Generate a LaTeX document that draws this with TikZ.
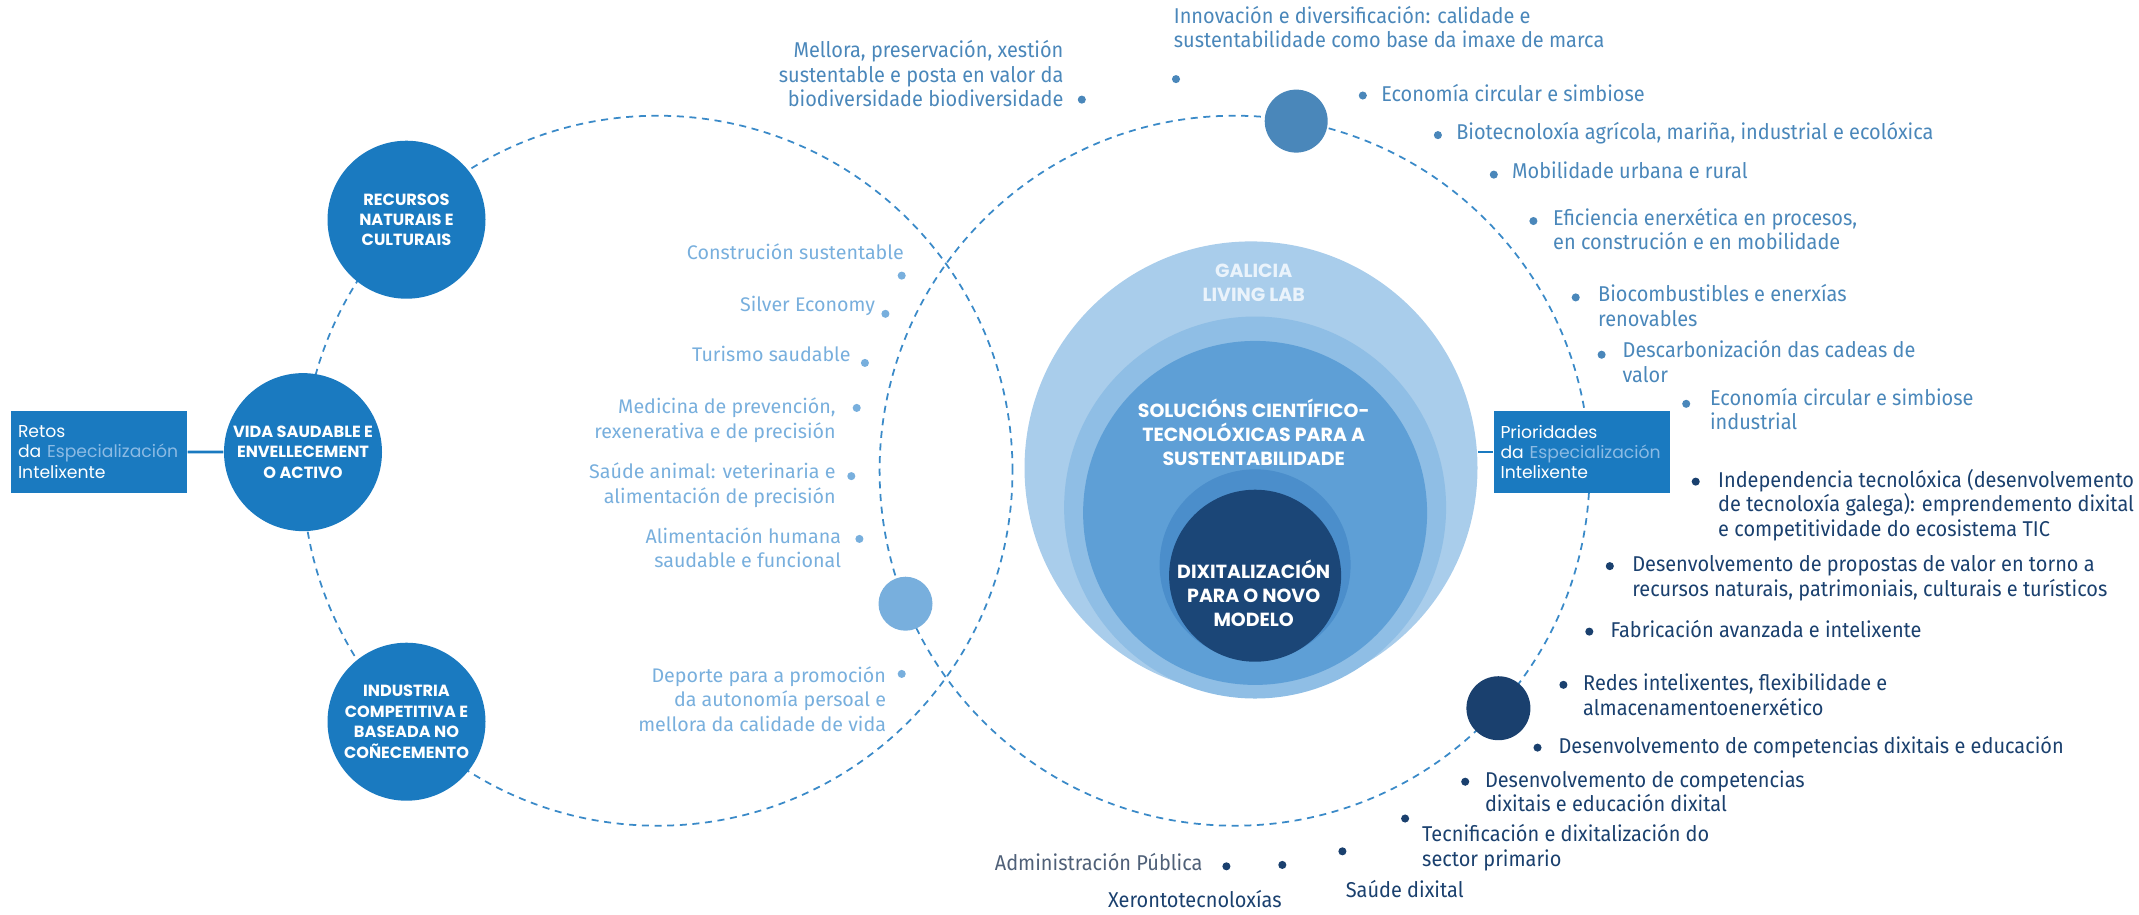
\documentclass[tikz,border=0pt]{standalone}
\usepackage{fontspec}
\usepackage{tikz}
\usepackage{xcolor}
\setmainfont{Fira Sans}
\newfontfamily\popfont{Poppins}
\newfontfamily\condfont[FakeStretch=0.93]{Fira Sans}
\definecolor{BlueGL}{HTML}{1A7AC0}
\definecolor{SteelGL}{HTML}{4A87BA}
\definecolor{LightGL}{HTML}{78AFDD}
\definecolor{DarkGL}{HTML}{1A406E}
\definecolor{GrayGL}{HTML}{4F6078}
\definecolor{PaleGL}{HTML}{8CBBE4}
\definecolor{DashGL}{HTML}{3A8AC8}
\definecolor{RingA}{HTML}{A9CDEB}
\definecolor{RingB}{HTML}{8FBEE5}
\definecolor{RingC}{HTML}{5E9FD6}
\definecolor{RingD}{HTML}{4B8ECB}
\definecolor{RingE}{HTML}{1B4677}
\definecolor{SnowGL}{HTML}{EAF3FB}
\newcommand\nodert{Retos\\da \textcolor{PaleGL}{Especialización}\\Intelixente}
\newcommand\nodepr{Prioridades\\da \textcolor{PaleGL}{Especialización}\\Intelixente}
\newcommand\noderec{RECURSOS\\NATURAIS E\\CULTURAIS}
\newcommand\nodevsa{VIDA SAUDABLE E\\ENVELLECEMENT\\O ACTIVO}
\newcommand\nodeicc{INDUSTRIA\\COMPETITIVA E\\BASEADA NO\\COÑECEMENTO}
\newcommand\nodegll{GALICIA\\LIVING LAB}
\newcommand\nodesct{SOLUCIÓNS CIENTÍFICO-\\TECNOLÓXICAS PARA A\\SUSTENTABILIDADE}
\newcommand\nodedix{DIXITALIZACIÓN\\PARA O NOVO\\MODELO}
\newcommand\nodeml{Mellora, preservación, xestión\\sustentable e posta en valor da\\biodiversidade biodiversidade}
\newcommand\nodeid{Innovación e diversificación: calidade e\\sustentabilidade como base da imaxe de marca}
\newcommand\nodeec{Economía circular e simbiose}
\newcommand\nodebt{Biotecnoloxía agrícola, mariña, industrial e ecolóxica}
\newcommand\nodemu{Mobilidade urbana e rural}
\newcommand\nodeee{Eficiencia enerxética en procesos,\\en construción e en mobilidade}
\newcommand\nodebc{Biocombustibles e enerxías\\renovables}
\newcommand\nodedc{Descarbonización das cadeas de\\valor}
\newcommand\nodeeci{Economía circular e simbiose\\industrial}
\newcommand\nodeit{Independencia tecnolóxica (desenvolvemento\\de tecnoloxía galega): emprendemento dixital\\e competitividade do ecosistema TIC}
\newcommand\nodedp{Desenvolvemento de propostas de valor en torno a\\recursos naturais, patrimoniais, culturais e turísticos}
\newcommand\nodefa{Fabricación avanzada e intelixente}
\newcommand\nodered{Redes intelixentes, flexibilidade e\\almacenamentoenerxético}
\newcommand\nodedce{Desenvolvemento de competencias dixitais e educación}
\newcommand\nodedcd{Desenvolvemento de competencias\\dixitais e educación dixital}
\newcommand\nodetd{Tecnificación e dixitalización do\\sector primario}
\newcommand\nodesd{Saúde dixital}
\newcommand\nodexe{Xerontotecnoloxías}
\newcommand\nodeap{Administración Pública}
\newcommand\nodecs{Construción sustentable}
\newcommand\nodese{Silver Economy}
\newcommand\nodets{Turismo saudable}
\newcommand\nodemp{Medicina de prevención,\\rexenerativa e de precisión}
\newcommand\nodesa{Saúde animal: veterinaria e\\alimentación de precisión}
\newcommand\nodeah{Alimentación humana\\saudable e funcional}
\newcommand\nodedpa{Deporte para a promoción\\da autonomía persoal e\\mellora da calidade de vida}
\tikzstyle{ringstyle} = [circle, inner sep=0pt, draw=none]
\tikzstyle{r1} = [ringstyle, fill=RingA, minimum size=4.53cm]
\tikzstyle{r2} = [ringstyle, fill=RingB, minimum size=3.82cm]
\tikzstyle{r3} = [ringstyle, fill=RingC, minimum size=3.44cm]
\tikzstyle{r4} = [ringstyle, fill=RingD, minimum size=1.91cm]
\tikzstyle{r5} = [ringstyle, fill=RingE, minimum size=1.72cm]
\tikzstyle{bn} = [circle, inner sep=0pt, minimum size=1.58cm, fill=BlueGL, align=center, text=white, font=\popfont\bfseries\fontsize{4.6}{5.8}\selectfont]
\tikzstyle{sn} = [circle, inner sep=0pt, minimum size=0.63cm, fill=SteelGL]
\tikzstyle{ln} = [circle, inner sep=0pt, minimum size=0.54cm, fill=LightGL]
\tikzstyle{dn} = [circle, inner sep=0pt, minimum size=0.64cm, fill=DarkGL]
\tikzstyle{boxn} = [rectangle, fill=BlueGL, text=white, minimum width=1.76cm, minimum height=0.82cm, inner xsep=0.07cm, text width=1.62cm, align=left, font=\popfont\fontsize{4.9}{5.8}\selectfont]
\tikzstyle{lw} = [align=center, text=white, inner sep=0pt, font=\popfont\bfseries\fontsize{5.4}{6.9}\selectfont]
\tikzstyle{bs} = [circle, inner sep=0pt, minimum size=2.3pt, fill=SteelGL]
\tikzstyle{bl} = [circle, inner sep=0pt, minimum size=2.3pt, fill=LightGL]
\tikzstyle{bd} = [circle, inner sep=0pt, minimum size=2.3pt, fill=DarkGL]
\tikzstyle{ts} = [inner sep=0pt, text=SteelGL, align=left, font=\condfont\fontsize{6.1}{7}\selectfont]
\tikzstyle{td} = [inner sep=0pt, text=DarkGL, align=left, font=\condfont\fontsize{6.1}{7}\selectfont]
\tikzstyle{tl} = [inner sep=0pt, text=LightGL, align=right, font=\fontsize{5.6}{7}\selectfont]
\tikzstyle{dashring} = [draw=DashGL, line width=0.5pt, dash pattern=on 2pt off 1.6pt]
\tikzset{link/.style={draw=BlueGL, line width=0.8pt}}

\begin{document}
\begin{tikzpicture}
\useasboundingbox (0, 0) rectangle (21.39, -9.14);
\draw[dashring] (6.575, -4.707) circle (3.55);
\draw[dashring] (12.346, -4.707) circle (3.55);
\node[r1] (gll) at (12.510, -4.679) {};
\node[r2] (rb) at (12.551, -5.075) {};
\node[r3] (sct) at (12.551, -5.129) {};
\node[r4] (halo) at (12.551, -5.648) {};
\node[r5] (dix) at (12.551, -5.757) {};
\node[lw, text=SnowGL] (gllt) at (12.537, -2.831) {\nodegll};
\node[lw] (sctt) at (12.537, -4.325) {\nodesct};
\node[lw] (dixt) at (12.537, -5.934) {\nodedix};
\node[boxn] (rt) at (0.99, -4.52) {\nodert};
\node[boxn] (pr) at (15.815, -4.52) {\nodepr};
\node[bn] (rec) at (4.065, -2.197) {\noderec};
\node[bn] (vsa) at (3.030, -4.521) {\nodevsa};
\node[bn] (icc) at (4.065, -7.217) {\nodeicc};
\node[sn] (top) at (12.962, -1.211) {};
\node[ln] (mid) at (9.055, -6.037) {};
\node[dn] (low) at (14.984, -7.082) {};
\draw[link] (rt) -- (vsa);
\draw[link] (pr.west) -- (pr.west -| gll.east);
\node[bs] (b1) at (10.818, -0.996) {};
\node[ts, anchor=base east, align=right] (t1) at (10.641, -1.067) {\nodeml};
\node[bs] (b2) at (11.760, -0.791) {};
\node[ts, anchor=base west] (t2) at (11.732, -0.479) {\nodeid};
\node[bs] (b3) at (13.628, -0.955) {};
\node[ts, anchor=base west] (t3) at (13.806, -1.010) {\nodeec};
\node[bs] (b4) at (14.379, -1.351) {};
\node[ts, anchor=base west] (t4) at (14.556, -1.392) {\nodebt};
\node[bs] (b5) at (14.938, -1.746) {};
\node[ts, anchor=base west] (t5) at (15.115, -1.787) {\nodemu};
\node[bs] (b6) at (15.334, -2.210) {};
\node[ts, anchor=base west] (t6) at (15.525, -2.498) {\nodeee};
\node[bs] (b7) at (15.757, -2.974) {};
\node[ts, anchor=base west] (t7) at (15.975, -3.262) {\nodebc};
\node[bs] (b8) at (16.016, -3.547) {};
\node[ts, anchor=base west] (t8) at (16.220, -3.821) {\nodedc};
\node[bs] (b9) at (16.862, -4.038) {};
\node[ts, anchor=base west] (t9) at (17.094, -4.299) {\nodeeci};
\node[bd] (b10) at (16.957, -4.816) {};
\node[td, anchor=base west] (t10) at (17.175, -5.364) {\nodeit};
\node[bd] (b11) at (16.098, -5.661) {};
\node[td, anchor=base west] (t11) at (16.316, -5.963) {\nodedp};
\node[bd] (b12) at (15.893, -6.316) {};
\node[td, anchor=base west] (t12) at (16.098, -6.371) {\nodefa};
\node[bd] (b13) at (15.634, -6.848) {};
\node[td, anchor=base west] (t13) at (15.825, -7.150) {\nodered};
\node[bd] (b14) at (15.375, -7.476) {};
\node[td, anchor=base west] (t14) at (15.579, -7.530) {\nodedce};
\node[bd] (b15) at (14.652, -7.817) {};
\node[td, anchor=base west] (t15) at (14.843, -8.118) {\nodedcd};
\node[bd] (b16) at (14.051, -8.185) {};
\node[td, anchor=base west] (t16) at (14.215, -8.664) {\nodetd};
\node[bd] (b17) at (13.424, -8.513) {};
\node[td, anchor=base west] (t17) at (13.451, -8.977) {\nodesd};
\node[bd] (b18) at (12.823, -8.649) {};
\node[td, anchor=base east] (t18) at (12.823, -9.072) {\nodexe};
\node[bd] (b19) at (12.264, -8.663) {};
\node[td, anchor=base east, text=GrayGL] (t19) at (12.032, -8.704) {\nodeap};
\node[bl] (b20) at (9.017, -2.756) {};
\node[tl, anchor=base east] (t20) at (9.045, -2.592) {\nodecs};
\node[bl] (b21) at (8.854, -3.138) {};
\node[tl, anchor=base east] (t21) at (8.758, -3.110) {\nodese};
\node[bl] (b22) at (8.649, -3.629) {};
\node[tl, anchor=base east] (t22) at (8.513, -3.615) {\nodets};
\node[bl] (b23) at (8.567, -4.079) {};
\node[tl, anchor=base east] (t23) at (8.363, -4.381) {\nodemp};
\node[bl] (b24) at (8.513, -4.761) {};
\node[tl, anchor=base east] (t24) at (8.363, -5.035) {\nodesa};
\node[bl] (b25) at (8.594, -5.389) {};
\node[tl, anchor=base east] (t25) at (8.417, -5.677) {\nodeah};
\node[bl] (b26) at (9.017, -6.739) {};
\node[tl, anchor=base east] (t26) at (8.867, -7.315) {\nodedpa};
\end{tikzpicture}
\end{document}
